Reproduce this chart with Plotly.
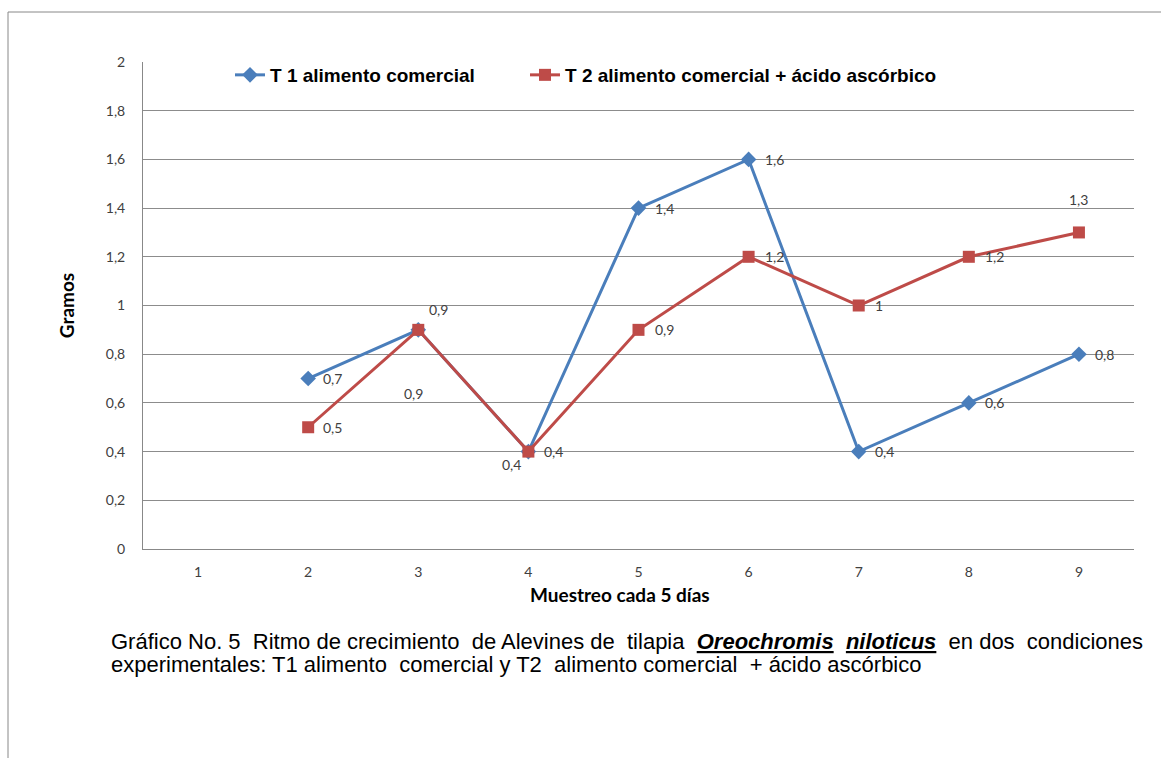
import plotly.graph_objects as go

# Sampling points (every 5 days) and mean weight in grams
muestreo = ["1", "2", "3", "4", "5", "6", "7", "8", "9"]
t1_gramos = [None, 0.7, 0.9, 0.4, 1.4, 1.6, 0.4, 0.6, 0.8]
t2_gramos = [None, 0.5, 0.9, 0.4, 0.9, 1.2, 1.0, 1.2, 1.3]
y_ticks = [0, 0.2, 0.4, 0.6, 0.8, 1.0, 1.2, 1.4, 1.6, 1.8, 2.0]

t1_name = "T 1 alimento comercial"
t2_name = "T 2 alimento comercial + ácido ascórbico"
x_title = "Muestreo cada 5 días"
y_title = "Gramos"
caption_1 = ("Gráfico No. 5\u00a0 Ritmo de crecimiento\u00a0 de Alevines de\u00a0 tilapia\u00a0 "
             "<b><i><u>Oreochromis</u></i></b>\u00a0 <b><i><u>niloticus</u></i></b>\u00a0 "
             "en dos\u00a0 condiciones")
caption_2 = ("experimentales: T1 alimento\u00a0 comercial y T2\u00a0 alimento comercial\u00a0 "
             "+ ácido ascórbico")

BLUE = "#4A7EBB"
RED = "#BE4B48"
LABEL_FONT = dict(family="Lato, Open Sans, sans-serif", size=14, color="#404040")
TITLE_FONT = dict(family="Lato, sans-serif", size=19, color="#000000")
CAP_FONT = dict(family="Liberation Sans, Arial, sans-serif", size=22, color="#000000")
LEGEND_FONT = dict(family="Liberation Sans, Arial, sans-serif", size=19, color="#000000",
                   weight="bold")

# label offsets (px) per point: (xanchor, xshift, yshift)
t1_label_pos = [None, ("left", 13, 0), ("center", -5, -64), ("center", -17, -13),
                ("left", 14, 0), ("left", 14, 0), ("left", 14, 0), ("left", 14, 0), ("left", 14, 0)]
t2_label_pos = [None, ("left", 13, 0), ("left", 9, 20), ("left", 14, 0),
                ("left", 14, 0), ("left", 14, 0), ("left", 14, 0), ("left", 14, 0), ("center", 0, 33)]

# plot area in pixels
PX_L, PX_T, PW, PH = 143, 62, 991, 487


def px_x(px):
    return (px - PX_L) / PW


def px_y(py):
    return 1 - (py - PX_T) / PH


def fmt(v):
    return f"{v:g}".replace(".", ",")


fig = go.Figure()
fig.add_trace(go.Scatter(
    x=muestreo, y=t1_gramos, name=t1_name, mode="lines+markers",
    line=dict(color=BLUE, width=3),
    marker=dict(symbol="diamond", size=12, color=BLUE),
    legend="legend",
))
fig.add_trace(go.Scatter(
    x=muestreo, y=t2_gramos, name=t2_name, mode="lines+markers",
    line=dict(color=RED, width=3),
    marker=dict(symbol="square", size=12, color=RED),
    legend="legend2",
))

annotations = []
for series, positions in ((t1_gramos, t1_label_pos), (t2_gramos, t2_label_pos)):
    for idx, (v, pos) in enumerate(zip(series, positions)):
        if v is None:
            continue
        anchor, dx, dy = pos
        annotations.append(dict(
            x=idx, y=v, xref="x", yref="y", text=fmt(v), showarrow=False,
            xanchor=anchor, yanchor="middle", xshift=dx, yshift=dy, font=LABEL_FONT,
        ))

# x-axis title
annotations.append(dict(
    x=px_x(620), y=px_y(594), xref="paper", yref="paper", text=f"<b>{x_title}</b>",
    showarrow=False, xanchor="center", yanchor="middle", font=TITLE_FONT,
))

# caption lines
for text, py in ((caption_1, 641), (caption_2, 664)):
    annotations.append(dict(
        x=px_x(109), y=px_y(py), xref="paper", yref="paper", text=text, showarrow=False,
        xanchor="left", yanchor="middle", font=CAP_FONT,
    ))

legend_common = dict(
    orientation="h", y=px_y(75), xanchor="left", yanchor="middle",
    font=LEGEND_FONT, bgcolor="rgba(0,0,0,0)",
)

fig.update_layout(
    width=1161, height=758,
    margin=dict(l=PX_L, r=1161 - PX_L - PW, t=PX_T, b=758 - PX_T - PH),
    paper_bgcolor="white", plot_bgcolor="white",
    separators=",.",
    showlegend=True,
    legend=dict(x=px_x(230), **legend_common),
    legend2=dict(x=px_x(525), **legend_common),
    xaxis=dict(
        type="category", range=[-0.5, 8.5], showgrid=False,
        showline=True, linecolor="#888888", linewidth=1, ticks="",
        tickfont=LABEL_FONT, ticklabelstandoff=10,
    ),
    yaxis=dict(
        range=[0, 2], tickvals=y_ticks, showgrid=True, gridcolor="#8C8C8C", gridwidth=1,
        showline=True, linecolor="#888888", linewidth=1, ticks="", zeroline=False,
        tickfont=LABEL_FONT, ticklabelstandoff=14,
        title=dict(text=f"<b>{y_title}</b>", standoff=26, font=TITLE_FONT),
    ),
    annotations=annotations,
    shapes=[dict(
        type="rect", xref="paper", yref="paper",
        x0=px_x(8), x1=px_x(1175), y0=px_y(775), y1=px_y(12),
        line=dict(color="#888888", width=1), fillcolor="rgba(0,0,0,0)", layer="below",
    )],
)

fig.write_html("out.html")
